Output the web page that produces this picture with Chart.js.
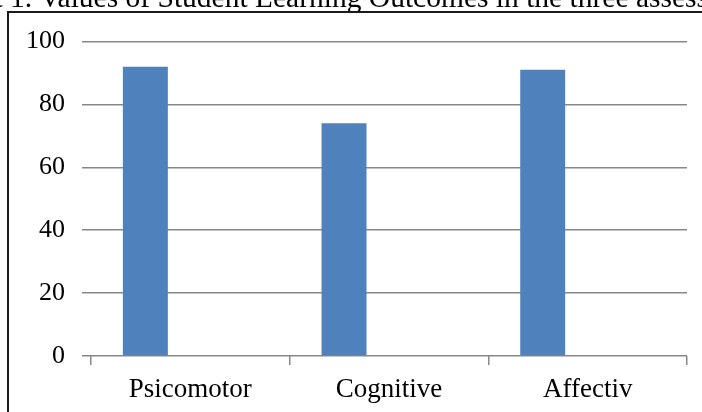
<!DOCTYPE html>
<html>
<head>
<meta charset="utf-8">
<script src="https://cdn.jsdelivr.net/npm/chart.js@4/dist/chart.umd.min.js"></script>
<style>
  html, body { margin: 0; padding: 0; background: #ffffff; }
  #wrap { position: relative; width: 702px; height: 412px; }
</style>
</head>
<body>
<div id="wrap"><canvas id="chart" width="702" height="412"></canvas></div>
<script>
// Assessment categories and learning outcome scores
const categories = ['Psicomotor', 'Cognitive', 'Affectiv'];
const series1 = [92, 74, 91];
// Two further series in the sheet hold no values
const series2 = [null, null, null];
const series3 = [null, null, null];
const yTicks = [0, 20, 40, 60, 80, 100];

const captionLead = 'Chart ';
const captionText = '1. Values of Student Learning Outcomes in the three assessments';

const serif = '"Liberation Serif", "Times New Roman", serif';
const gridGray = '#878787';

// Caption line and frame around the chart
const framePlugin = {
  id: 'frame',
  afterDraw(chart) {
    const ctx = chart.ctx;
    ctx.save();
    ctx.fillStyle = '#000000';
    ctx.font = '29.5px ' + serif;
    ctx.textBaseline = 'alphabetic';
    ctx.textAlign = 'left';
    const lead = ctx.measureText(captionLead).width;
    ctx.fillText(captionLead + captionText, 10 - lead, 7);
    ctx.strokeStyle = '#1a1a1a';
    ctx.lineWidth = 2;
    ctx.beginPath();
    ctx.moveTo(8, 420);
    ctx.lineTo(8, 12);
    ctx.lineTo(710, 12);
    ctx.stroke();
    ctx.restore();
  }
};

new Chart(document.getElementById('chart'), {
  type: 'bar',
  data: {
    labels: categories,
    datasets: [
      { label: 'Series1', data: series1, backgroundColor: '#4f81bd' },
      { label: 'Series2', data: series2, backgroundColor: '#c0504d' },
      { label: 'Series3', data: series3, backgroundColor: '#9bbb59' }
    ]
  },
  options: {
    responsive: false,
    animation: false,
    devicePixelRatio: 1,
    layout: { padding: { top: 41.5, right: 15, bottom: 0, left: 0 } },
    plugins: {
      legend: { display: false },
      tooltip: { enabled: false }
    },
    datasets: {
      bar: { categoryPercentage: 0.679, barPercentage: 1.0 }
    },
    scales: {
      x: {
        offset: true,
        border: { display: false },
        grid: {
          offset: true,
          drawOnChartArea: false,
          drawTicks: true,
          tickLength: 9,
          color: gridGray,
          lineWidth: 1.5
        },
        ticks: {
          color: '#000000',
          font: { family: serif, size: 27 },
          padding: 9,
          maxRotation: 0
        },
        afterFit(scale) { scale.height = 56; }
      },
      y: {
        min: 0,
        max: 100,
        border: { display: false },
        afterBuildTicks(scale) {
          scale.ticks = yTicks.map(v => ({ value: v }));
        },
        grid: {
          drawTicks: true,
          tickLength: 9,
          color: gridGray,
          lineWidth: 1.5
        },
        ticks: {
          color: '#000000',
          font: { family: serif, size: 26 },
          padding: 17
        },
        afterFit(scale) { scale.width = 91; }
      }
    }
  },
  plugins: [framePlugin]
});
</script>
</body>
</html>
